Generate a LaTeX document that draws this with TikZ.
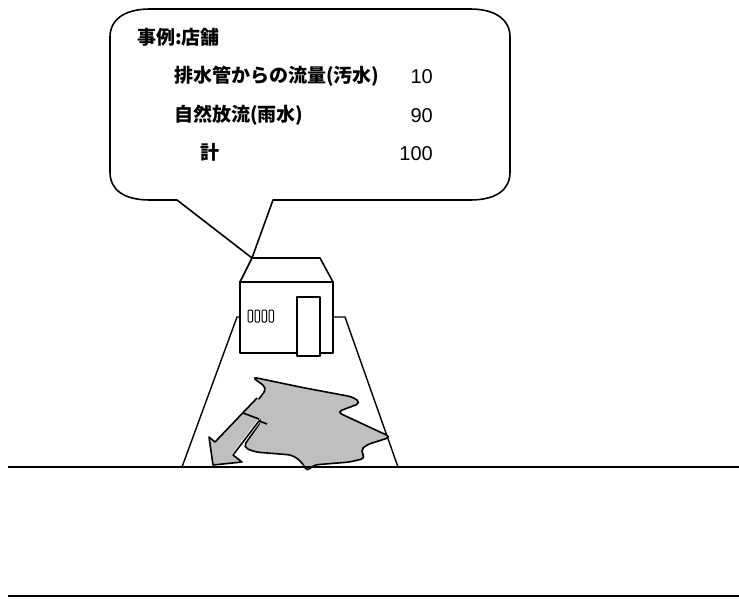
\documentclass[tikz,border=0pt]{standalone}
\usepackage{fontspec}
\setmainfont{Noto Sans CJK JP}
\newfontfamily\numfont{Liberation Sans}
\usetikzlibrary{arrows.meta}

\tikzset{
  outline/.style={draw=black, line width=1.6pt, line join=round},
  lotline/.style={draw=black, line width=1.4pt},
  runoff/.style={fill=gray!50},
  label/.style={anchor=base west, inner sep=0pt, font=\bfseries\fontsize{19}{19}\selectfont},
  amount/.style={anchor=base east, inner sep=0pt, font=\numfont\fontsize{20}{20}\selectfont},
}

\begin{document}
\begin{tikzpicture}[x=1pt,y=-1pt]
\useasboundingbox (0,0) rectangle (739,608);

% speech bubble
\draw[outline] (150,9) -- (470,9) .. controls (496,9) and (510,20) .. (510,37)
  -- (510,172) .. controls (510,190) and (496,200) .. (470,200)
  -- (273,200) -- (252,258) -- (177,200) -- (150,200)
  .. controls (124,200) and (110,190) .. (110,172)
  -- (110,37) .. controls (110,20) and (124,9) .. (150,9) -- cycle;

\node[label] (title) at (137,44) {事例:店舗};
\node[label] (sewage) at (174,82) {排水管からの流量(汚水)};
\node[label] (rain) at (174,121) {自然放流(雨水)};
\node[label] (total) at (200,159) {計};
\node[amount] (n1) at (433,83) {10};
\node[amount] (n2) at (433,122) {90};
\node[amount] (n3) at (433,160) {100};

% lot
\draw[lotline] (240,317) -- (237,317) -- (182,467);
\draw[lotline] (333,317) -- (345,317) -- (398,467);

% shop
\draw[outline, fill=white] (252,258) -- (320,258) -- (333,282) -- (240,282) -- cycle;
\draw[outline, fill=white] (240,282) rectangle (333,353);
\draw[outline, fill=white] (297,297) rectangle (320,356);
\foreach \i in {0,1,2,3}
  \draw[line width=1pt, rounded corners=1pt] (248+\i*7,310) rectangle +(4.5,12);

% rain water spreading over the lot
\draw[outline, runoff, rounded corners=5pt] (252,377) -- (305,388) -- (353,397)
  -- (361,403) -- (337,412) -- (380,432) -- (391,437) -- (366,445) -- (360,451)
  -- (366,458) -- (350,462) -- (313,465) -- (307,472) -- (302,462) -- (292,455)
  -- (255,452) -- (243,447) -- (262,420) -- (250,410) -- (262,395) -- (267,388)
  -- cycle;
\fill[runoff] (257,398) -- (215,442) -- (209,437) -- (213,465) -- (242,462)
  -- (233,455) -- (259,421) -- (266,406) -- cycle;
\draw[white, line width=3pt] (233,455) -- (259,421);
\draw[outline] (257,398) -- (215,442) -- (209,437) -- (213,465) -- (242,462)
  -- (233,455) -- (259,421) -- (267,424);
\draw[outline] (243,413) -- (259,419);

% ground lines
\draw[outline] (8,467) -- (739,467);
\draw[outline] (8,596) -- (739,596);
\end{tikzpicture}
\end{document}
